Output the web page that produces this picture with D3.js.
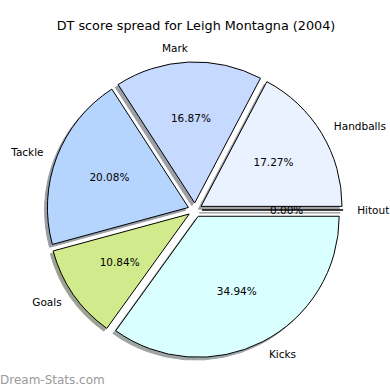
<!DOCTYPE html>
<html>
<head>
<meta charset="utf-8">
<script src="https://cdn.jsdelivr.net/npm/d3@7"></script>
<style>
  body { margin: 0; background: #fff; }
  text { font-family: "DejaVu Sans", sans-serif; fill: #000; }
</style>
</head>
<body>
<script>
// pie slices, drawn counterclockwise from 3 o'clock like the source
var categories = ["Handballs", "Mark", "Tackle", "Goals", "Kicks", "Hitout"];
var values = [17.27, 16.87, 20.08, 10.84, 34.94, 0];
var colors = ["#eaf1ff", "#c6d9ff", "#b5d5ff", "#d1eb8c", "#d9ffff", "#eeeeee"];
var title = "DT score spread for Leigh Montagna (2004)";

var width = 390, height = 390;
var cx = 195, cy = 210, radius = 141;
var explode = 0.05 * radius;
var shadowOff = 0.02 * radius;

var svg = d3.select("body")
  .append("svg")
  .attr("width", width)
  .attr("height", height);

var rows = categories.map(function(c, i){
  return {name: c, value: values[i], color: colors[i]};
});
var total = d3.sum(values);

//counterclockwise: start at 3 o'clock and go negative
var pie = d3.pie()
  .sort(null)
  .value(function(d){ return d.value; })
  .startAngle(Math.PI / 2)
  .endAngle(Math.PI / 2 - 2 * Math.PI);

var arc = d3.arc().innerRadius(0).outerRadius(radius);
var arcs = pie(rows);

function dir(d){
  var m = (d.startAngle + d.endAngle) / 2;
  return [Math.sin(m), -Math.cos(m)];
}

var g = svg.append("g").attr("transform", "translate(" + cx + "," + cy + ")");

//shadows first, below every wedge
g.selectAll(".shadow")
  .data(arcs)
  .enter()
  .append("path")
  .attr("class", "shadow")
  .attr("d", arc)
  .attr("transform", function(d){
    var v = dir(d);
    return "translate(" + (v[0] * explode - shadowOff) + "," + (v[1] * explode + shadowOff) + ")";
  })
  .attr("fill", function(d){
    var c = d3.rgb(d.data.color);
    return d3.rgb(c.r * 0.3, c.g * 0.3, c.b * 0.3);
  })
  .attr("stroke", function(d){
    var c = d3.rgb(d.data.color);
    return d3.rgb(c.r * 0.3, c.g * 0.3, c.b * 0.3);
  })
  .attr("stroke-width", 1)
  .attr("opacity", 0.5);

g.selectAll(".wedge")
  .data(arcs)
  .enter()
  .append("path")
  .attr("class", "wedge")
  .attr("d", arc)
  .attr("transform", function(d){
    var v = dir(d);
    return "translate(" + v[0] * explode + "," + v[1] * explode + ")";
  })
  .attr("fill", function(d){ return d.data.color; })
  .attr("stroke", "#000")
  .attr("stroke-width", 1)
  .attr("stroke-linejoin", "miter");

//category labels at 1.1 r
g.selectAll(".label")
  .data(arcs)
  .enter()
  .append("text")
  .attr("class", "label")
  .attr("x", function(d){ return dir(d)[0] * (explode + 1.1 * radius); })
  .attr("y", function(d){ return dir(d)[1] * (explode + 1.1 * radius); })
  .attr("dy", "0.35em")
  .attr("text-anchor", function(d){ return dir(d)[0] > 0 ? "start" : "end"; })
  .style("font-size", "10.5px")
  .text(function(d){ return d.data.name; });

//percent labels at 0.6 r
g.selectAll(".pct")
  .data(arcs)
  .enter()
  .append("text")
  .attr("class", "pct")
  .attr("x", function(d){ return dir(d)[0] * (explode + 0.6 * radius); })
  .attr("y", function(d){ return dir(d)[1] * (explode + 0.6 * radius); })
  .attr("dy", "0.35em")
  .attr("text-anchor", "middle")
  .style("font-size", "10.5px")
  .text(function(d){ return (d.data.value / total * 100).toFixed(2) + "%"; });

svg.append("text")
  .attr("x", 196)
  .attr("y", 30)
  .attr("text-anchor", "middle")
  .style("font-size", "12.8px")
  .text(title);

svg.append("text")
  .attr("x", 0)
  .attr("y", 384)
  .style("font-size", "12px")
  .style("fill", "#9a9a9a")
  .text("Dream-Stats.com");
</script>
</body>
</html>
